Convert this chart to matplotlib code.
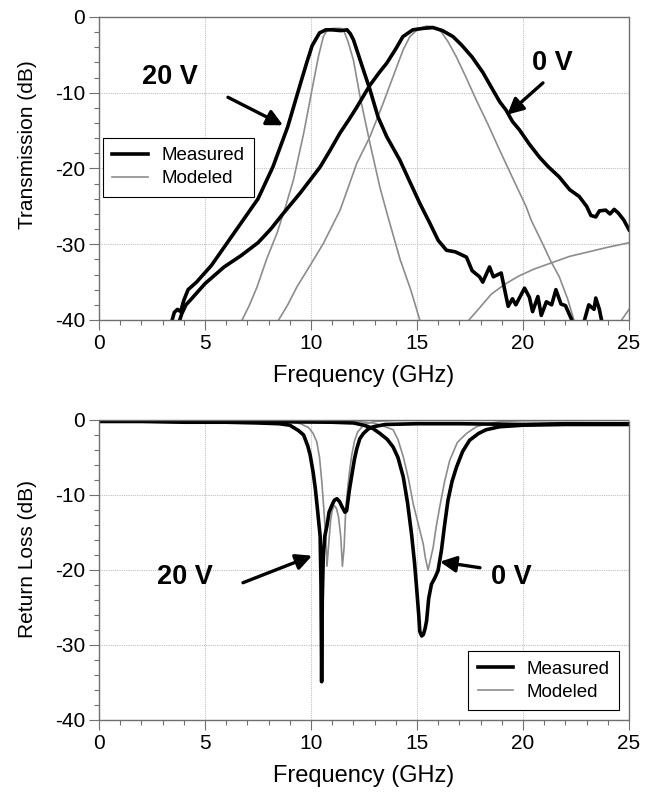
import matplotlib
matplotlib.use("Agg")
import matplotlib.pyplot as plt
from matplotlib.ticker import MultipleLocator

plt.rcParams['font.family'] = ['Liberation Sans', 'DejaVu Sans']
plt.rcParams['axes.unicode_minus'] = False

""" Transmission (top panel), frequency in GHz, level in dB """
f_meas20_t = [3.4, 3.55, 3.7, 3.85, 4.0, 4.2, 4.6, 5.3, 6.0, 6.4, 7.0, 7.5, 8.2, 8.9, 9.5, 9.8,
              10.05, 10.4, 10.7, 11.0, 11.4, 11.7, 11.85, 12.0, 12.47, 12.78, 13.16, 13.57, 14.19,
              14.7, 15.13, 15.6, 16.0, 16.39, 16.8, 17.33, 17.6, 17.95, 18.1, 18.42, 18.6, 18.97,
              19.2, 19.3, 19.5, 19.66, 20.07, 20.3, 20.45, 20.7, 20.86, 21.1, 21.35, 21.55, 21.79,
              22.0, 22.3, 22.6, 22.9, 23.1, 23.35, 23.43, 23.6, 23.7, 24.0]
db_meas20_t = [-40.5, -39.0, -38.6, -38.9, -37.4, -36.0, -35.0, -32.8, -30.0, -28.4, -26.0, -24.0,
               -19.8, -14.5, -8.8, -6.0, -3.8, -2.1, -1.7, -1.7, -1.8, -1.7, -2.2, -3.0, -7.0, -9.6,
               -13.2, -15.8, -18.9, -22.0, -24.6, -27.2, -29.5, -30.8, -31.0, -31.7, -33.5, -34.3,
               -35.0, -33.0, -34.3, -33.8, -36.9, -38.2, -37.2, -38.0, -35.8, -37.0, -38.9, -36.9,
               -39.4, -37.6, -38.0, -36.0, -37.9, -38.1, -40.0, -42.0, -40.0, -38.0, -38.6, -37.1,
               -38.6, -40.0, -42.0]

f_meas0_t = [3.75, 3.9, 4.1, 4.3, 5.0, 5.9, 6.7, 7.5, 8.1, 8.7, 9.5, 10.43, 10.9, 11.37, 11.8, 12.16,
             12.5, 12.78, 13.2, 13.57, 14.0, 14.33, 14.8, 15.3, 15.75, 16.2, 16.7, 17.1, 17.6, 18.1,
             18.57, 18.9, 19.2, 19.5, 19.83, 20.3, 20.77, 21.2, 21.7, 22.2, 22.65, 23.0, 23.2, 23.43,
             23.6, 23.9, 24.1, 24.3, 24.5, 24.75, 25.0]
db_meas0_t = [-40.5, -39.2, -38.0, -37.4, -35.2, -33.0, -31.5, -29.8, -28.0, -25.9, -23.2, -19.8,
              -17.6, -15.3, -13.5, -11.9, -10.3, -9.0, -7.4, -6.1, -4.2, -2.6, -1.7, -1.5, -1.4, -1.8,
              -2.6, -3.7, -5.3, -7.3, -9.6, -11.2, -12.3, -13.8, -14.9, -16.8, -18.5, -19.8, -21.1,
              -22.8, -23.7, -25.0, -26.2, -26.4, -25.6, -25.5, -26.0, -25.4, -25.9, -26.8, -28.1]

f_mod20_t = [6.75, 7.1, 7.46, 7.9, 8.4, 8.8, 9.17, 9.65, 10.1, 10.35, 10.58, 10.8, 11.1, 11.4, 11.53,
             11.75, 12.0, 12.31, 12.78, 13.25, 13.64, 14.2, 14.7, 15.13]
db_mod20_t = [-40, -38.0, -35.6, -32.0, -28.5, -25.0, -21.5, -15.4, -8.8, -5.2, -2.6, -1.6, -1.5,
              -1.5, -1.7, -3.3, -5.7, -10.5, -16.7, -22.5, -26.5, -32.0, -36.0, -40]

f_mod0_t = [8.47, 8.9, 9.34, 10.0, 10.58, 11.37, 12.16, 12.78, 13.4, 14.04, 14.35, 14.66, 15.04,
            15.45, 15.8, 16.07, 16.45, 16.86, 17.3, 17.8, 18.35, 18.9, 19.5, 20.14, 20.38, 20.9,
            21.32, 21.71, 22.1, 22.4]
db_mod0_t = [-40, -38.0, -35.6, -32.6, -29.9, -25.5, -19.3, -15.8, -11.4, -6.6, -4.3, -2.6, -1.6,
             -1.2, -1.3, -1.7, -3.2, -5.3, -7.9, -11.0, -14.2, -17.6, -21.2, -25.0, -26.8, -29.8,
             -32.3, -34.3, -37.2, -40]

f_mod_hi_t = [17.45, 17.95, 18.5, 19.13, 19.8, 20.5, 21.4, 22.2, 23.1, 24.0, 25.0]
db_mod_hi_t = [-40, -38.4, -36.6, -35.3, -34.2, -33.3, -32.4, -31.6, -31.0, -30.4, -29.8]
f_mod_edge_t = [24.65, 25.0]
db_mod_edge_t = [-40, -38.6]

""" Return loss (bottom panel) """
f_meas20_b = [0, 2, 4, 6, 7.5, 8.5, 9.0, 9.4, 9.65, 9.85, 9.96, 10.1, 10.2, 10.3, 10.43, 10.47,
              10.5, 10.53, 10.58, 10.65, 10.75, 10.85, 10.98, 11.1, 11.22, 11.35, 11.45, 11.6,
              11.68, 11.8, 11.92, 12.05, 12.16, 12.3, 12.47, 12.7, 12.94, 13.5, 15, 17, 20, 22, 25]
db_meas20_b = [-0.2, -0.2, -0.3, -0.3, -0.4, -0.5, -0.7, -1.4, -2.0, -3.5, -4.7, -7.0, -9.1, -11.8,
               -15.5, -22.0, -34.9, -24.0, -18.0, -15.5, -14.1, -12.3, -11.4, -10.7, -10.5, -10.9,
               -11.5, -12.3, -12.1, -9.5, -7.4, -5.2, -3.8, -2.5, -1.8, -1.2, -0.9, -0.6, -0.5,
               -0.5, -0.6, -0.5, -0.5]

f_meas0_b = [0, 3, 6, 9, 11, 12.0, 12.5, 12.9, 13.25, 13.6, 13.87, 14.1, 14.35, 14.55, 14.74, 14.88,
             14.98, 15.08, 15.13, 15.22, 15.3, 15.38, 15.45, 15.55, 15.68, 15.85, 15.99, 16.15,
             16.3, 16.46, 16.65, 16.86, 17.15, 17.48, 17.9, 18.26, 18.9, 20, 22, 25]
db_meas0_b = [-0.1, -0.15, -0.2, -0.25, -0.3, -0.4, -0.7, -1.1, -1.8, -2.6, -3.6, -5.0, -7.6,
              -11.0, -15.2, -19.0, -22.4, -26.0, -28.2, -28.8, -28.6, -27.8, -26.8, -23.8, -21.9,
              -21.0, -20.1, -17.4, -14.0, -10.7, -8.2, -6.3, -4.2, -2.7, -1.8, -1.3, -0.9, -0.7,
              -0.6, -0.6]

f_mod20_b = [0, 8, 9.0, 9.5, 9.88, 10.1, 10.27, 10.4, 10.51, 10.62, 10.7, 10.75, 10.82, 10.92, 11.0,
             11.1, 11.2, 11.3, 11.4, 11.48, 11.56, 11.62, 11.68, 11.8, 11.92, 12.05, 12.2, 12.5,
             13, 14, 25]
db_mod20_b = [0, -0.05, -0.2, -0.5, -1.0, -1.8, -2.9, -5.0, -8.3, -12.5, -16.0, -19.5, -17.0,
              -13.5, -12.0, -11.4, -11.8, -13.0, -15.5, -19.5, -17.0, -13.0, -10.5, -7.2, -4.7,
              -2.8, -1.6, -0.6, -0.2, -0.05, 0]

f_mod0_b = [0, 11, 12.0, 12.93, 13.4, 13.87, 14.1, 14.35, 14.6, 14.82, 15.05, 15.29, 15.4, 15.52,
            15.64, 15.76, 15.9, 16.07, 16.3, 16.54, 16.9, 17.33, 17.8, 18.3, 19, 20, 25]
db_mod0_b = [0, -0.05, -0.15, -0.4, -0.8, -1.3, -2.6, -4.9, -7.9, -11.2, -13.8, -16.5, -18.5,
             -20.0, -18.5, -17.0, -14.3, -11.6, -8.2, -5.4, -3.0, -1.8, -0.9, -0.5, -0.2, -0.1, 0]

meas_kw = dict(color='black', lw=2.6, solid_joinstyle='round')
mod_kw = dict(color='#8c8c8c', lw=1.2)
gray = '#707070'
arrow = dict(arrowstyle='-|>', lw=2.4, color='black', mutation_scale=24, shrinkA=0, shrinkB=0)
leg_kw = dict(borderaxespad=0, fontsize=13.5, fancybox=False, framealpha=1, edgecolor='black',
              handlelength=1.9, handletextpad=0.7, borderpad=0.5, labelspacing=0.3)

fig = plt.figure(figsize=(6.58, 7.93), dpi=100)
ax1 = fig.add_axes([0.1505, 0.5965, 0.8055, 0.3821])
ax2 = fig.add_axes([0.1505, 0.0921, 0.8055, 0.3783])

for ax in (ax1, ax2):
    ax.set_xlim(0, 25)
    ax.set_ylim(-40, 0)
    ax.xaxis.set_major_locator(MultipleLocator(5))
    ax.xaxis.set_minor_locator(MultipleLocator(1))
    ax.yaxis.set_major_locator(MultipleLocator(10))
    ax.yaxis.set_minor_locator(MultipleLocator(2))
    ax.grid(True, which='major', color='#c0c0c0', ls=(0, (1, 1)), lw=0.8)
    ax.tick_params(which='major', direction='out', length=7, width=0.8, color=gray,
                   labelsize=15, pad=3)
    ax.tick_params(which='minor', direction='out', length=3.5, width=0.8, color=gray)
    for sp in ax.spines.values():
        sp.set_color(gray)
        sp.set_linestyle((0, (1, 1)))
        sp.set_linewidth(1.0)
    ax.set_xlabel('Frequency (GHz)', fontsize=17)
    ax.xaxis.set_label_coords(0.5, -0.15)
    ax.set_axisbelow(True)

# top panel
ax1.plot(f_mod20_t, db_mod20_t, **mod_kw)
ax1.plot(f_mod0_t, db_mod0_t, **mod_kw)
ax1.plot(f_mod_hi_t, db_mod_hi_t, **mod_kw)
ax1.plot(f_mod_edge_t, db_mod_edge_t, **mod_kw)
ax1.plot(f_meas20_t, db_meas20_t, **meas_kw)
ax1.plot(f_meas0_t, db_meas0_t, **meas_kw)
ax1.set_ylabel('Transmission (dB)', fontsize=15)
ax1.yaxis.set_label_coords(-0.117, 0.578)

l1 = ax1.legend(handles=[plt.Line2D([], [], **meas_kw), plt.Line2D([], [], **mod_kw)],
                labels=['Measured', 'Modeled'], loc='upper left',
                bbox_to_anchor=(0.0075, 0.6007), **leg_kw)
l1.get_frame().set_linewidth(0.8)

ax1.text(3.35, -7.9, '20 V', fontsize=19.5, fontweight='bold', ha='center', va='center')
ax1.annotate('', xy=(8.68, -14.3), xytext=(6.08, -10.6), arrowprops=arrow)
ax1.text(21.37, -6.1, '0 V', fontsize=19.5, fontweight='bold', ha='center', va='center')
ax1.annotate('', xy=(19.25, -12.9), xytext=(20.94, -8.7), arrowprops=arrow)

# bottom panel
ax2.plot(f_mod20_b, db_mod20_b, **mod_kw)
ax2.plot(f_mod0_b, db_mod0_b, **mod_kw)
ax2.plot(f_meas20_b, db_meas20_b, **meas_kw)
ax2.plot(f_meas0_b, db_meas0_b, **meas_kw)
ax2.set_ylabel('Return Loss (dB)', fontsize=15)
ax2.yaxis.set_label_coords(-0.117, 0.537)

l2 = ax2.legend(handles=[plt.Line2D([], [], **meas_kw), plt.Line2D([], [], **mod_kw)],
                labels=['Measured', 'Modeled'], loc='lower right',
                bbox_to_anchor=(0.981, 0.033), **leg_kw)
l2.get_frame().set_linewidth(0.8)

ax2.text(4.06, -20.9, '20 V', fontsize=19.5, fontweight='bold', ha='center', va='center')
ax2.annotate('', xy=(10.05, -18.1), xytext=(6.79, -21.7), arrowprops=arrow)
ax2.text(19.43, -20.9, '0 V', fontsize=19.5, fontweight='bold', ha='center', va='center')
ax2.annotate('', xy=(16.08, -18.9), xytext=(17.97, -19.7), arrowprops=arrow)

fig.savefig('out.png', dpi=100)
